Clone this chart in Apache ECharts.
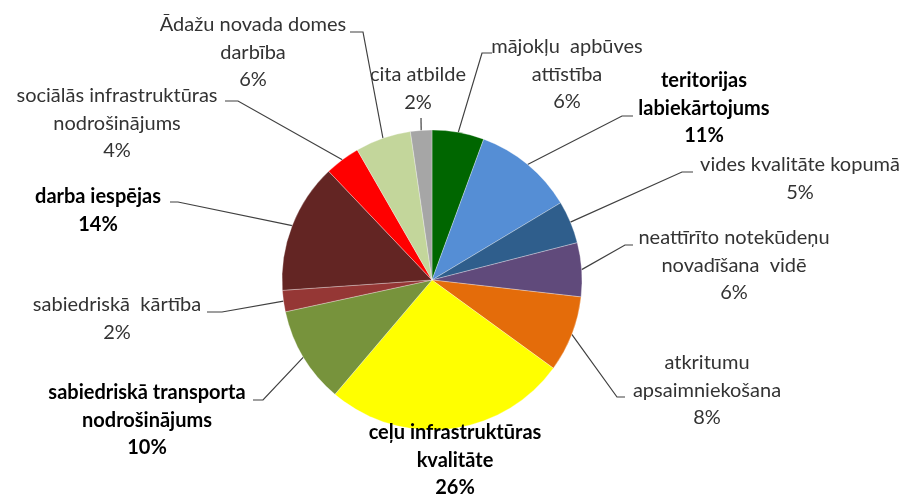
<!DOCTYPE html>
<html>
<head>
<meta charset="utf-8">
<script src="https://cdn.jsdelivr.net/npm/echarts@6/dist/echarts.min.js"></script>
<style>
  html, body { margin: 0; padding: 0; background: #ffffff; }
  #chart { width: 907px; height: 496px; }
</style>
</head>
<body>
<div id="chart"></div>
<script>
// categories, clockwise from 12 o'clock
const categories = [
  'mājokļu  apbūves\nattīstība',
  'teritorijas\nlabiekārtojums',
  'vides kvalitāte kopumā',
  'neattīrīto notekūdeņu\nnovadīšana  vidē',
  'atkritumu\napsaimniekošana',
  'ceļu infrastruktūras\nkvalitāte',
  'sabiedriskā transporta\nnodrošinājums',
  'sabiedriskā  kārtība',
  'darba iespējas',
  'sociālās infrastruktūras\nnodrošinājums',
  'Ādažu novada domes\ndarbība',
  'cita atbilde'
];
const values = [5.6, 10.8, 4.6, 5.8, 8.2, 26.2, 10.4, 2.3, 14.0, 3.8, 6.0, 2.3];

// styling
const colors = ['#006600', '#558ED5', '#2F5E8C', '#604A7B', '#E46C0A', '#FFFF00',
                '#77933C', '#953735', '#632523', '#FF0000', '#C3D69B', '#A6A6A6'];
const boldIdx = [1, 5, 6, 8];
const LINE_H = 27.5;

// label layout: text centre x, first line centre y, leader elbow + end
const labelPos = [
  { x: 567, y: 47,  line: [[482, 53], [492, 53]] },
  { x: 704, y: 81,  line: [[622, 116], [633, 116]] },
  { x: 800, y: 165, line: [[682, 172], [693, 172]] },
  { x: 734, y: 238, line: [[625, 245], [633, 245]] },
  { x: 707, y: 363, line: [[617, 397], [625, 397]] },
  { x: 455, y: 433, line: null },
  { x: 147, y: 393, line: [[263, 400], [253, 400]] },
  { x: 117, y: 305, line: [[222, 312], [207, 312]] },
  { x: 98,  y: 197, line: [[178, 202], [170, 202]] },
  { x: 117, y: 96,  line: [[238, 101], [225, 101]] },
  { x: 253, y: 25,  line: [[363, 32], [350, 32]] },
  { x: 418, y: 75,  line: [[421, 118], [421, 118]] }
];

const chart = echarts.init(document.getElementById('chart'));

const data = categories.map((name, i) => {
  const bold = boldIdx.includes(i);
  return {
    name: name,
    value: values[i],
    itemStyle: { color: colors[i] },
    label: {
      fontWeight: bold ? 'bold' : 'normal',
      color: bold ? '#000000' : '#333333'
    },
    labelLine: { show: labelPos[i].line !== null }
  };
});

chart.setOption({
  animation: false,
  backgroundColor: '#ffffff',
  series: [{
    type: 'pie',
    center: [432, 280],
    radius: 150,
    startAngle: 90,
    clockwise: true,
    avoidLabelOverlap: false,
    itemStyle: { borderColor: 'rgba(255,255,255,0.5)', borderWidth: 0.6 },
    emphasis: { disabled: true },
    label: {
      show: true,
      position: 'outside',
      fontFamily: 'Lato, "Liberation Sans", sans-serif',
      fontSize: 20,
      lineHeight: LINE_H,
      align: 'center',
      formatter: (p) => p.name + '\n' + Math.round(p.percent) + '%'
    },
    labelLine: {
      show: true,
      length: 10,
      length2: 10,
      lineStyle: { color: '#404040', width: 1.2 }
    },
    labelLayout: (params) => {
      const p = labelPos[params.dataIndex];
      const out = { x: p.x, y: p.y - LINE_H / 2, align: 'center', verticalAlign: 'top' };
      const pts = params.labelLinePoints;
      if (p.line && pts && pts.length) {
        out.labelLinePoints = [pts[0], p.line[0], p.line[1]];
      }
      return out;
    },
    data: data
  }]
});
</script>
</body>
</html>
